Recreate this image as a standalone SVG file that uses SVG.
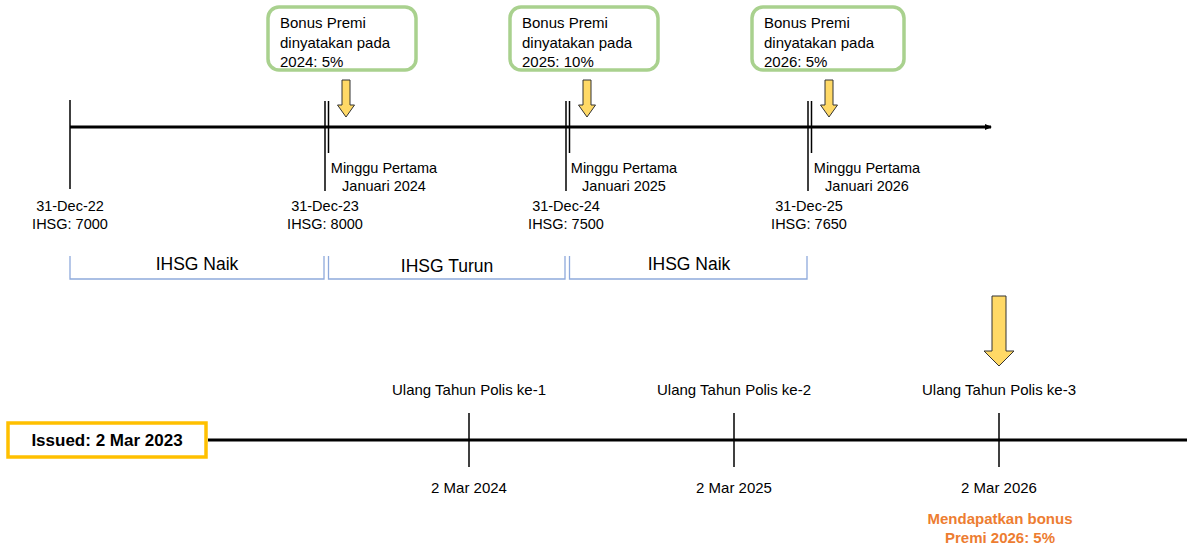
<svg xmlns="http://www.w3.org/2000/svg" width="1187" height="548" viewBox="0 0 1187 548">
<style>
text{font-family:"Liberation Sans",Arial,sans-serif;fill:#000}
.box{fill:#fff;stroke:#A9D18E;stroke-width:3.5}
.bt{font-size:15px}
.lbl{font-size:14.5px;text-anchor:middle}
.big{font-size:17.5px;text-anchor:middle}
.bl{font-size:15px;text-anchor:middle}
.tick{stroke:#000;stroke-width:1.5}
.brk{fill:none;stroke:#8FAADC;stroke-width:1.3}
.arr{fill:#FFD966;stroke:#333;stroke-width:1}
.or{font-size:15px;font-weight:bold;fill:#ED7D31;text-anchor:middle}
</style>
<defs>
<marker id="ah" markerWidth="8" markerHeight="8" refX="6" refY="4" orient="auto" markerUnits="userSpaceOnUse">
<path d="M0,1 L7,4 L0,7 Z" fill="#000"/>
</marker>
</defs>
<g id="connectors">
<line x1="70" y1="127" x2="991" y2="127" stroke="#000" stroke-width="3" marker-end="url(#ah)"/>
<line x1="208" y1="440" x2="1187" y2="440" stroke="#000" stroke-width="3"/>
<line class="tick" x1="70" y1="100" x2="70" y2="189"/>
<line class="tick" x1="325" y1="101" x2="325" y2="191"/>
<line class="tick" x1="328.5" y1="101" x2="328.5" y2="153"/>
<line class="tick" x1="566" y1="101" x2="566" y2="191"/>
<line class="tick" x1="569.5" y1="101" x2="569.5" y2="153"/>
<line class="tick" x1="808" y1="101" x2="808" y2="191"/>
<line class="tick" x1="811.5" y1="101" x2="811.5" y2="153"/>
<line class="tick" x1="469" y1="413" x2="469" y2="467"/>
<line class="tick" x1="734" y1="413" x2="734" y2="467"/>
<line class="tick" x1="999" y1="413" x2="999" y2="467"/>
<path class="brk" d="M70,256 V279 H324 V256"/>
<path class="brk" d="M328.5,256 V279 H565 V256"/>
<path class="brk" d="M569.5,256 V279 H807 V256"/>
<path class="arr" d="M342,80 H350 V105 H354.5 L346,117 L337.5,105 H342 Z"/>
<path class="arr" d="M583,80 H591 V105 H595.5 L587,117 L578.5,105 H583 Z"/>
<path class="arr" d="M825,80 H833 V105 H837.5 L829,117 L820.5,105 H825 Z"/>
<path class="arr" d="M992,296 H1006 V351 H1014 L999,366 L984,351 H992 Z"/>
</g>
<g id="box2024">
<rect class="box" x="268" y="7" width="148" height="63" rx="11"/>
<text class="bt" x="280" y="28">Bonus Premi</text>
<text class="bt" x="280" y="48">dinyatakan pada</text>
<text class="bt" x="280" y="67">2024: 5%</text>
</g>
<g id="box2025">
<rect class="box" x="510" y="7" width="148" height="63" rx="11"/>
<text class="bt" x="522" y="28">Bonus Premi</text>
<text class="bt" x="522" y="48">dinyatakan pada</text>
<text class="bt" x="522" y="67">2025: 10%</text>
</g>
<g id="box2026">
<rect class="box" x="752" y="7" width="152" height="63" rx="11"/>
<text class="bt" x="764" y="28">Bonus Premi</text>
<text class="bt" x="764" y="48">dinyatakan pada</text>
<text class="bt" x="764" y="67">2026: 5%</text>
</g>
<g id="labels-top">
<text class="lbl" x="70" y="211">31-Dec-22</text>
<text class="lbl" x="70" y="229">IHSG: 7000</text>
<text class="lbl" x="325" y="211">31-Dec-23</text>
<text class="lbl" x="325" y="229">IHSG: 8000</text>
<text class="lbl" x="566" y="211">31-Dec-24</text>
<text class="lbl" x="566" y="229">IHSG: 7500</text>
<text class="lbl" x="809" y="211">31-Dec-25</text>
<text class="lbl" x="809" y="229">IHSG: 7650</text>
<text class="lbl" x="384" y="173">Minggu Pertama</text>
<text class="lbl" x="384" y="191">Januari 2024</text>
<text class="lbl" x="624" y="173">Minggu Pertama</text>
<text class="lbl" x="624" y="191">Januari 2025</text>
<text class="lbl" x="867" y="173">Minggu Pertama</text>
<text class="lbl" x="867" y="191">Januari 2026</text>
<text class="big" x="197" y="270">IHSG Naik</text>
<text class="big" x="447" y="272">IHSG Turun</text>
<text class="big" x="689" y="270">IHSG Naik</text>
</g>
<g id="issued">
<rect x="8" y="423" width="198" height="34" fill="#fff" stroke="#FFC000" stroke-width="3.5"/>
<text x="107" y="446" style="font-size:17px;font-weight:bold;text-anchor:middle">Issued: 2 Mar 2023</text>
</g>
<g id="labels-bottom">
<text class="bl" x="469" y="395">Ulang Tahun Polis ke-1</text>
<text class="bl" x="734" y="395">Ulang Tahun Polis ke-2</text>
<text class="bl" x="999" y="395">Ulang Tahun Polis ke-3</text>
<text class="bl" x="469" y="493">2 Mar 2024</text>
<text class="bl" x="734" y="493">2 Mar 2025</text>
<text class="bl" x="999" y="493">2 Mar 2026</text>
<text class="or" x="1000" y="524">Mendapatkan bonus</text>
<text class="or" x="1000" y="543">Premi 2026: 5%</text>
</g>
</svg>
